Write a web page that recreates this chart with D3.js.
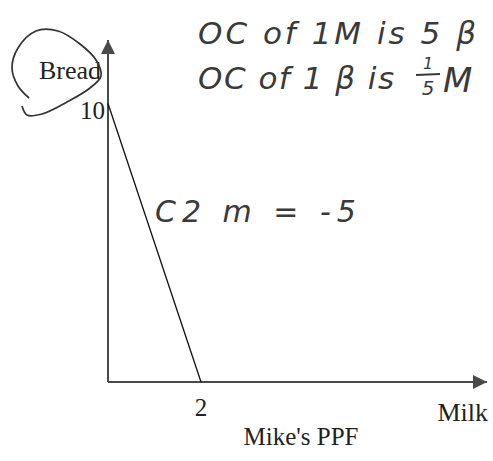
<!DOCTYPE html>
<html>
<head>
<meta charset="utf-8">
<script src="https://cdn.jsdelivr.net/npm/d3@7"></script>
<style>
  html, body { margin: 0; padding: 0; background: #fff; }
  svg { display: block; }
</style>
</head>
<body>
<svg id="chart" width="493" height="461"></svg>
<script>
// Mike's production possibilities frontier: all bread or all milk
const goods = ["Milk", "Bread"];
const milk = [0, 2];
const bread = [10, 0];
const xTicks = [2];
const yTicks = [10];
const title = "Mike's PPF";
const notes = ["OC of 1M is 5 β", "OC of 1 β is", "C2 m = -5"];

const svg = d3.select("#chart");

const x = d3.scaleLinear().domain([0, 8.15]).range([108, 487]);
const y = d3.scaleLinear().domain([0, 12.28]).range([382, 40]);

const axisColor = "#4a4a4a";
const serif = "'Liberation Serif', 'Times New Roman', serif";
const hand = "'DejaVu Sans', sans-serif";
const ink = "#3a3a3a";

// arrowhead marker
svg.append("defs").append("marker")
  .attr("id", "arrow")
  .attr("viewBox", "0 0 10 10")
  .attr("refX", 10).attr("refY", 5)
  .attr("markerWidth", 7).attr("markerHeight", 7)
  .attr("markerUnits", "strokeWidth")
  .attr("orient", "auto")
  .append("path").attr("d", "M0,0 L10,5 L0,10 Z").attr("fill", axisColor);

// axes with arrow ends
svg.append("line")
  .attr("x1", x(0)).attr("y1", y(0)).attr("x2", x(0)).attr("y2", y.range()[1])
  .attr("stroke", axisColor).attr("stroke-width", 2).attr("marker-end", "url(#arrow)");
svg.append("line")
  .attr("x1", x(0)).attr("y1", y(0)).attr("x2", x.range()[1]).attr("y2", y(0))
  .attr("stroke", axisColor).attr("stroke-width", 2).attr("marker-end", "url(#arrow)");

// frontier
const line = d3.line().x((d, i) => x(milk[i])).y((d, i) => y(bread[i]));
svg.append("path")
  .datum(milk)
  .attr("d", line)
  .attr("fill", "none").attr("stroke", "#111").attr("stroke-width", 1.3);

// tick labels
svg.selectAll(".xt").data(xTicks).join("text")
  .attr("x", d => x(d)).attr("y", y(0) + 34)
  .attr("text-anchor", "middle")
  .attr("font-family", serif).attr("font-size", 25).attr("fill", "#222")
  .text(d => d);
svg.selectAll(".yt").data(yTicks).join("text")
  .attr("x", x(0) - 3).attr("y", d => y(d) + 16)
  .attr("text-anchor", "end")
  .attr("font-family", serif).attr("font-size", 25).attr("fill", "#222")
  .text(d => d);

// axis names
svg.append("text")
  .attr("x", 488).attr("y", 421).attr("text-anchor", "end")
  .attr("font-family", serif).attr("font-size", 26).attr("fill", "#222")
  .text(goods[0]);
svg.append("text")
  .attr("x", 101).attr("y", 79).attr("text-anchor", "end")
  .attr("font-family", serif).attr("font-size", 26).attr("fill", "#222")
  .text(goods[1]);

// title
svg.append("text")
  .attr("x", 301).attr("y", 445).attr("text-anchor", "middle")
  .attr("font-family", serif).attr("font-size", 25).attr("fill", "#222")
  .text(title);

// pen loop around the Bread label
const loop = [[29, 98], [18, 86], [12, 68], [18, 48], [36, 31], [58, 31], [80, 44], [96, 60], [101, 76],
              [90, 88], [67, 102], [42, 114], [27, 115], [22, 106]];
svg.append("path")
  .attr("d", d3.line().curve(d3.curveCatmullRom)(loop))
  .attr("fill", "none").attr("stroke", "#333").attr("stroke-width", 1.7);

// handwritten notes
svg.append("text")
  .attr("x", 198).attr("y", 44)
  .attr("font-family", hand).attr("font-style", "italic").attr("font-size", 31)
  .attr("fill", ink).attr("letter-spacing", 3)
  .text(notes[0]);
svg.append("text")
  .attr("x", 198).attr("y", 89)
  .attr("font-family", hand).attr("font-style", "italic").attr("font-size", 31)
  .attr("fill", ink).attr("letter-spacing", 1.5)
  .text(notes[1]);
// one fifth M
const fx = 428;
svg.append("text").attr("x", fx).attr("y", 69).attr("text-anchor", "middle")
  .attr("font-family", hand).attr("font-style", "italic").attr("font-size", 16).attr("fill", ink).text("1");
svg.append("line").attr("x1", fx - 12).attr("x2", fx + 12).attr("y1", 75).attr("y2", 74)
  .attr("stroke", ink).attr("stroke-width", 2);
svg.append("text").attr("x", fx).attr("y", 95).attr("text-anchor", "middle")
  .attr("font-family", hand).attr("font-style", "italic").attr("font-size", 20).attr("fill", ink).text("5");
svg.append("text").attr("x", 443).attr("y", 92)
  .attr("font-family", hand).attr("font-style", "italic").attr("font-size", 34).attr("fill", ink).text("M");

svg.append("text")
  .attr("x", 155).attr("y", 222)
  .attr("font-family", hand).attr("font-style", "italic").attr("font-size", 30)
  .attr("fill", ink).attr("letter-spacing", 6)
  .text(notes[2]);
</script>
</body>
</html>
